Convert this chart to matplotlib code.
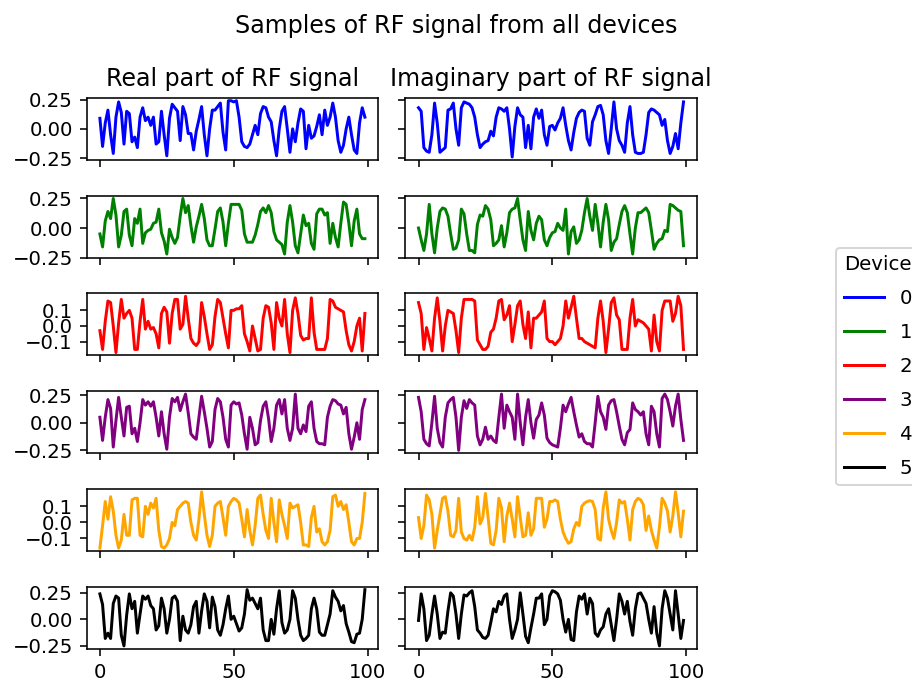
import matplotlib
matplotlib.use("Agg")
import matplotlib.pyplot as plt
import numpy as np

devices = ["0", "1", "2", "3", "4", "5"]
colors = ["blue", "green", "red", "purple", "orange", "black"]

real0 = [0.09, -0.15, 0.05, 0.16, -0.05, -0.21, 0.10, 0.23, 0.14, -0.13,
         0.15, 0.13, -0.11, -0.07, -0.16, 0.10, 0.18, 0.07, 0.10, 0.03,
         0.10, -0.13, -0.11, 0.15, -0.05, -0.23, 0.09, 0.21, 0.18, 0.15,
         -0.10, 0.19, 0.12, -0.04, -0.04, -0.18, -0.02, 0.08, 0.19, -0.05,
         -0.23, 0.00, 0.16, 0.16, 0.19, 0.22, -0.03, -0.18, 0.24, 0.24,
         0.23, 0.24, 0.10, -0.11, -0.15, -0.16, -0.13, -0.05, 0.03, -0.05,
         0.13, 0.19, 0.18, 0.10, 0.06, -0.10, -0.23, 0.00, 0.15, 0.19,
         0.00, -0.20, 0.00, -0.11, 0.05, 0.17, 0.15, -0.17, 0.03, -0.08,
         -0.06, 0.02, 0.12, -0.05, 0.16, 0.03, 0.10, 0.22, 0.10, -0.10,
         -0.20, -0.14, 0.00, 0.10, -0.05, -0.18, -0.21, 0.05, 0.18, 0.10]
imag0 = [0.18, 0.15, -0.16, -0.19, -0.20, -0.05, 0.22, 0.05, -0.20, -0.18,
         -0.16, 0.16, 0.17, 0.22, 0.00, -0.14, 0.18, 0.23, 0.22, 0.21,
         0.18, 0.10, -0.05, -0.16, -0.13, -0.11, -0.10, -0.02, -0.06, 0.10,
         0.18, 0.17, 0.15, 0.18, 0.00, -0.24, 0.02, 0.18, 0.12, 0.10,
         -0.16, 0.03, -0.17, 0.10, 0.17, 0.09, 0.16, -0.05, -0.14, 0.02,
         0.03, -0.01, 0.05, 0.09, 0.18, 0.03, -0.10, -0.18, -0.03, 0.09,
         0.14, 0.16, 0.15, -0.08, -0.14, 0.06, 0.12, 0.19, 0.20, 0.12,
         -0.10, -0.21, 0.00, 0.23, 0.00, -0.10, -0.14, -0.20, 0.05, 0.19,
         -0.05, -0.20, -0.21, -0.21, -0.20, -0.05, 0.14, 0.17, 0.16, 0.14,
         0.12, 0.03, 0.08, -0.10, -0.21, -0.15, -0.04, -0.17, 0.05, 0.23]

real1 = [-0.05, -0.16, 0.06, 0.14, 0.08, 0.25, 0.11, -0.16, -0.06, 0.14,
         0.16, -0.06, -0.15, 0.08, 0.04, 0.16, -0.13, -0.04, -0.02, -0.01,
         0.04, 0.05, 0.16, -0.04, -0.11, -0.22, -0.01, -0.08, -0.13, -0.08,
         0.10, 0.25, 0.13, 0.19, 0.02, -0.12, 0.01, 0.10, 0.20, 0.08,
         -0.10, -0.15, -0.15, -0.01, 0.14, 0.17, 0.05, -0.15, 0.04, 0.20,
         0.20, 0.20, 0.20, 0.15, -0.05, -0.12, -0.12, -0.12, -0.06, 0.03,
         0.14, 0.17, 0.13, 0.19, 0.13, -0.03, -0.10, -0.12, -0.14, -0.22,
         0.05, 0.19, 0.05, -0.15, -0.21, -0.05, 0.11, 0.02, 0.04, -0.13,
         -0.18, 0.12, 0.16, 0.16, 0.11, 0.13, -0.13, 0.04, -0.08, -0.16,
         0.04, 0.22, 0.20, 0.04, -0.15, 0.06, 0.16, -0.05, -0.09, -0.09]
imag1 = [0.00, -0.10, -0.19, -0.05, 0.20, -0.05, -0.21, 0.00, 0.14, 0.17,
         0.16, 0.10, -0.05, -0.18, -0.17, -0.10, 0.16, 0.12, -0.05, -0.19,
         -0.19, -0.21, 0.03, 0.11, 0.10, 0.19, 0.16, 0.07, -0.15, -0.13,
         -0.10, 0.02, -0.16, -0.04, 0.13, 0.16, 0.17, 0.25, 0.07, -0.10,
         -0.19, 0.14, -0.02, -0.10, 0.04, 0.10, 0.07, -0.10, -0.15, -0.08,
         -0.04, -0.03, 0.04, 0.00, -0.02, 0.16, -0.22, -0.03, 0.01, -0.13,
         -0.10, -0.02, 0.13, 0.25, 0.10, -0.02, 0.20, 0.04, -0.16, 0.05,
         0.20, 0.07, -0.19, -0.12, -0.09, 0.03, 0.14, 0.19, 0.13, -0.05,
         -0.22, 0.00, 0.13, 0.13, 0.15, 0.17, 0.13, -0.02, -0.18, -0.13,
         -0.10, -0.09, -0.02, -0.03, 0.20, 0.19, 0.17, 0.15, 0.14, -0.15]

real2 = [-0.03, -0.15, 0.03, 0.16, 0.15, 0.00, -0.17, 0.02, 0.17, 0.05,
         0.08, 0.10, 0.05, -0.15, -0.15, 0.03, 0.17, -0.02, 0.03, -0.02,
         -0.01, -0.05, -0.14, 0.08, 0.12, 0.09, -0.11, 0.08, 0.17, 0.17,
         -0.02, 0.01, 0.19, 0.05, -0.08, -0.11, -0.125, -0.10, 0.15, 0.06,
         -0.05, -0.15, -0.12, 0.06, 0.17, 0.15, 0.05, -0.05, -0.14, 0.10,
         0.10, 0.11, 0.11, 0.13, -0.05, -0.10, -0.16, 0.00, -0.08, -0.16,
         -0.15, 0.05, 0.13, 0.12, 0.02, -0.15, 0.15, 0.05, 0.00, 0.17,
         -0.05, -0.17, 0.10, 0.18, 0.08, -0.06, -0.09, -0.08, -0.08, 0.18,
         -0.04, -0.15, -0.15, -0.15, -0.15, -0.08, 0.17, 0.16, 0.12, 0.11,
         0.10, 0.09, -0.03, -0.12, -0.16, -0.10, 0.00, 0.05, -0.16, 0.08]
imag2 = [0.15, 0.08, -0.15, -0.01, -0.08, -0.16, 0.05, 0.18, 0.03, -0.16,
         0.00, 0.10, 0.09, 0.08, -0.03, -0.17, 0.05, 0.17, 0.17, 0.17,
         0.17, 0.16, -0.09, -0.12, -0.15, -0.15, -0.13, -0.04, -0.02, 0.05,
         0.16, 0.17, 0.04, 0.07, 0.13, -0.10, 0.01, 0.13, 0.16, 0.01,
         -0.08, 0.09, -0.14, 0.05, 0.05, 0.07, 0.09, 0.16, -0.08, -0.10,
         -0.10, -0.12, -0.10, -0.08, 0.00, 0.16, 0.05, 0.12, 0.19, 0.05,
         -0.08, -0.08, -0.10, -0.11, -0.12, -0.13, -0.14, 0.05, 0.16, 0.03,
         -0.17, -0.02, 0.15, 0.18, 0.07, 0.04, -0.15, -0.15, -0.15, 0.05,
         0.17, 0.00, 0.04, 0.03, 0.02, 0.00, -0.02, -0.16, 0.07, -0.10,
         -0.16, 0.10, 0.16, 0.16, 0.16, 0.03, 0.08, 0.19, 0.13, -0.15]

real3 = [0.05, -0.16, 0.05, 0.21, 0.13, -0.22, 0.02, 0.23, 0.05, -0.12,
         0.14, 0.15, -0.10, -0.05, -0.17, 0.00, 0.21, 0.16, 0.19, 0.15,
         0.19, 0.05, -0.12, 0.10, -0.10, -0.24, 0.05, 0.22, 0.19, 0.23,
         0.11, 0.19, 0.26, 0.09, -0.10, -0.13, -0.15, 0.05, 0.24, 0.10,
         -0.05, -0.22, -0.17, 0.12, 0.22, 0.19, 0.05, -0.15, -0.22, 0.16,
         0.19, 0.17, 0.18, 0.07, -0.10, -0.24, 0.05, -0.05, -0.20, -0.18,
         0.02, 0.15, 0.19, 0.04, -0.17, -0.05, 0.16, 0.21, 0.08, 0.21,
         -0.05, -0.16, -0.05, 0.26, -0.05, -0.10, -0.02, -0.08, 0.15, 0.19,
         -0.05, -0.17, -0.19, -0.19, -0.20, 0.05, 0.15, 0.21, 0.20, 0.17,
         0.16, 0.08, 0.14, -0.10, -0.24, -0.13, 0.00, -0.15, 0.12, 0.21]
imag3 = [0.23, 0.10, -0.15, -0.19, -0.21, 0.00, 0.24, -0.05, -0.18, -0.22,
         0.05, 0.18, 0.21, 0.23, 0.05, -0.25, 0.05, 0.20, 0.13, 0.21,
         0.18, 0.16, -0.12, -0.20, -0.15, -0.04, -0.15, -0.12, -0.16, -0.18,
         0.05, 0.26, -0.05, 0.16, 0.10, 0.05, -0.15, 0.26, 0.00, -0.20,
         0.05, 0.21, 0.00, -0.14, 0.03, 0.07, 0.18, 0.07, -0.14, -0.18,
         -0.20, -0.21, -0.22, -0.05, 0.16, 0.10, 0.17, 0.23, 0.10, -0.02,
         -0.13, -0.10, -0.17, -0.19, -0.19, -0.22, 0.00, 0.24, 0.10, 0.05,
         -0.06, 0.16, 0.20, 0.21, 0.10, -0.03, -0.15, -0.20, -0.09, -0.06,
         0.18, 0.12, 0.10, 0.07, 0.10, -0.10, -0.20, 0.15, 0.10, -0.10,
         -0.22, 0.22, 0.26, 0.21, 0.10, -0.03, 0.15, 0.26, 0.03, -0.16]

real4 = [-0.16, -0.02, 0.13, 0.02, 0.16, 0.07, -0.08, -0.16, -0.11, 0.05,
         -0.08, -0.08, 0.14, 0.15, 0.15, -0.08, -0.09, 0.10, 0.05, 0.12,
         0.09, 0.15, -0.05, -0.15, -0.16, -0.14, -0.10, 0.00, -0.02, 0.08,
         0.10, 0.12, 0.13, 0.12, 0.00, -0.08, -0.11, 0.02, 0.19, 0.05,
         -0.08, -0.15, -0.08, 0.10, 0.12, 0.13, 0.03, -0.08, 0.10, 0.13,
         0.15, 0.14, 0.12, 0.02, -0.09, 0.08, -0.05, -0.14, -0.02, 0.15,
         0.17, 0.05, -0.05, -0.10, 0.15, 0.00, -0.12, 0.14, 0.05, -0.02,
         -0.10, 0.12, 0.09, 0.10, 0.11, 0.00, -0.14, -0.14, -0.15, 0.03,
         0.10, -0.06, -0.04, -0.12, -0.14, -0.12, -0.05, 0.16, 0.17, 0.10,
         0.13, 0.08, 0.11, 0.00, -0.12, -0.14, -0.10, -0.10, 0.00, 0.18]
imag4 = [0.03, -0.10, -0.02, 0.17, 0.14, 0.05, -0.16, -0.05, 0.05, 0.15,
         0.16, 0.07, -0.08, -0.09, -0.05, 0.15, -0.06, -0.10, -0.11, -0.08,
         -0.11, -0.03, 0.16, -0.01, 0.03, 0.18, 0.03, -0.13, -0.14, -0.05,
         0.15, 0.09, -0.12, 0.04, 0.12, 0.02, -0.09, 0.16, 0.03, -0.09,
         -0.08, 0.06, -0.08, -0.04, 0.15, 0.15, 0.15, -0.03, 0.02, 0.13,
         0.13, 0.14, 0.13, 0.02, -0.06, -0.10, -0.13, -0.12, -0.04, 0.00,
         -0.02, 0.10, 0.12, 0.13, 0.135, 0.13, 0.08, -0.10, -0.11, 0.09,
         0.19, 0.02, -0.05, -0.10, 0.00, 0.14, 0.12, 0.13, 0.02, -0.11,
         0.08, 0.13, 0.15, 0.14, 0.11, -0.05, 0.04, -0.05, -0.11, -0.16,
         -0.03, 0.15, 0.12, 0.07, -0.06, 0.04, 0.19, 0.06, -0.09, 0.07]

real5 = [0.24, 0.14, -0.18, -0.13, -0.18, 0.15, 0.22, 0.20, -0.15, -0.25,
         0.04, 0.24, 0.10, 0.17, -0.13, 0.05, 0.22, 0.19, 0.22, 0.13,
         0.10, -0.10, -0.06, 0.20, 0.10, -0.13, 0.00, 0.20, 0.22, 0.17,
         -0.20, 0.03, -0.10, -0.13, -0.05, 0.12, 0.17, -0.13, 0.08, 0.24,
         0.17, -0.08, 0.21, 0.12, -0.10, -0.15, -0.05, 0.10, 0.22, 0.00,
         0.03, -0.04, -0.11, -0.08, 0.05, 0.28, 0.18, 0.20, 0.15, 0.10,
         0.20, -0.10, -0.20, -0.20, 0.00, -0.14, 0.10, 0.27, -0.03, -0.13,
         -0.10, 0.00, 0.27, 0.20, 0.00, -0.15, -0.20, -0.18, -0.15, 0.10,
         0.20, 0.10, -0.12, -0.15, -0.15, -0.05, 0.05, 0.27, 0.21, 0.17,
         0.08, 0.13, -0.04, -0.12, -0.21, -0.22, -0.14, -0.13, 0.00, 0.28]
imag5 = [-0.01, 0.24, 0.10, -0.20, -0.15, 0.05, 0.22, 0.05, -0.18, -0.12,
         -0.13, 0.08, 0.25, 0.22, 0.05, -0.18, 0.05, 0.23, 0.22, 0.25,
         0.27, 0.12, -0.10, -0.13, -0.17, -0.18, -0.15, -0.03, 0.10, 0.07,
         0.17, 0.14, 0.22, 0.24, 0.00, -0.18, -0.10, 0.00, 0.25, 0.05,
         -0.16, -0.22, -0.08, 0.05, 0.20, 0.20, 0.24, -0.05, 0.00, 0.22,
         0.27, 0.26, 0.24, 0.18, 0.00, -0.12, 0.00, -0.19, -0.20, 0.07,
         0.22, 0.19, 0.24, 0.05, 0.20, 0.15, -0.13, -0.16, -0.10, -0.07,
         0.05, 0.10, -0.05, -0.20, 0.00, 0.24, 0.17, 0.05, 0.17, -0.02,
         -0.15, 0.10, 0.24, 0.25, 0.20, 0.15, 0.00, -0.13, 0.12, -0.13,
         -0.25, 0.10, 0.27, 0.20, 0.05, -0.10, 0.27, 0.05, -0.18, -0.01]

real_parts = [real0, real1, real2, real3, real4, real5]
imag_parts = [imag0, imag1, imag2, imag3, imag4, imag5]

ytick_sets = [[-0.25, 0, 0.25], [-0.25, 0, 0.25], [-0.1, 0, 0.1],
              [-0.25, 0, 0.25], [-0.1, 0, 0.1], [-0.25, 0, 0.25]]

fig, axes = plt.subplots(6, 2, sharex=True, sharey="row",
                         figsize=(6.4, 4.772), dpi=142.5)
fig.subplots_adjust(left=0.095, right=0.764, top=0.856, bottom=0.046,
                    wspace=0.093, hspace=0.58)

handles = []
for k in range(len(devices)):
    n = np.arange(len(real_parts[k]))
    line, = axes[k, 0].plot(n, real_parts[k], color=colors[k], label=devices[k])
    axes[k, 1].plot(n, imag_parts[k], color=colors[k])
    axes[k, 0].set_yticks(ytick_sets[k])
    handles.append(line)

axes[0, 0].set_title("Real part of RF signal")
axes[0, 1].set_title("Imaginary part of RF signal")
axes[-1, 0].set_xticks([0, 50, 100])
fig.suptitle("Samples of RF signal from all devices")

# legend sits half outside the canvas, as in the original
fig.legend(handles, devices, title="Device", loc="center left",
           bbox_to_anchor=(0.906, 0.461), labelspacing=0.75)

plt.savefig("out.png")
